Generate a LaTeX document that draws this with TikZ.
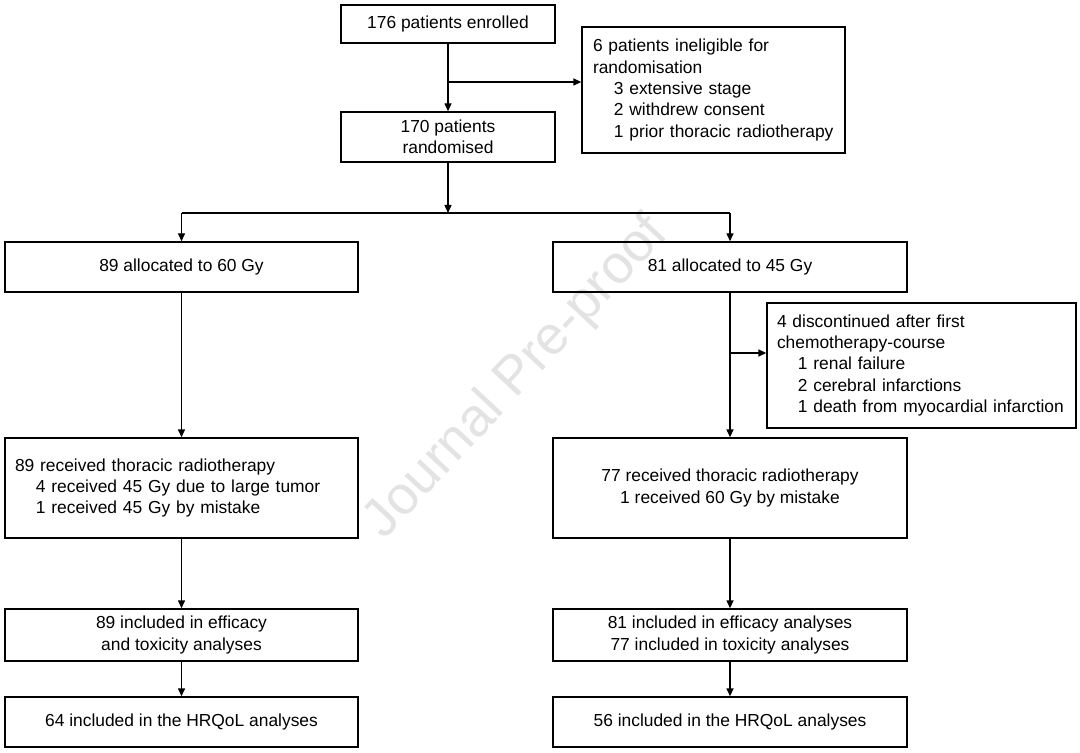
\documentclass[tikz,border=0pt]{standalone}
\usepackage{fontspec}
\setmainfont{Liberation Sans}
\usetikzlibrary{arrows.meta}

\newcommand\flowfont{\fontsize{8.7}{10.65}\selectfont}
\newcommand\ind{\hspace*{1.2em}}
\tikzset{
  box/.style={draw, line width=0.7pt, font=\flowfont, align=center, inner sep=0pt},
  boxsize/.style 2 args={minimum width=#1, minimum height=#2},
  arr/.style={-{Triangle[length=4pt,width=3.5pt]}, line width=0.7pt},
}

\begin{document}
\begin{tikzpicture}[x=0.5pt, y=-0.5pt]
    \fill[white] (0,0) rectangle (1080,753);
    \useasboundingbox (0,0) rectangle (1080,753);

    % watermark
    \node[rotate=47, text=black!11, font=\fontsize{27}{27}\selectfont] (wm) at (517,378) {Journal Pre-proof};

    % enrolment
    \node[box, boxsize={107pt}{19pt}] (enrol) at (448,24) {176 patients enrolled};
    \node[box, boxsize={107pt}{25pt}] (rand) at (448,137) {170 patients\\randomised};
    \node[box, boxsize={131.5pt}{63pt}, align=left, text width=120.5pt, inner xsep=5.5pt] (excl) at (713.5,90)
        {6 patients ineligible for\\randomisation\\\ind 3 extensive stage\\\ind 2 withdrew consent\\\ind 1 prior thoracic radiotherapy};

    % arms
    \node[box, boxsize={176.5pt}{25pt}] (arm60) at (181.5,267) {89 allocated to 60 Gy};
    \node[box, boxsize={177pt}{25pt}] (arm45) at (730,267) {81 allocated to 45 Gy};
    \node[box, boxsize={154.5pt}{62.5pt}, align=left, text width=144.5pt, inner xsep=5pt] (disc) at (921.5,365.5)
        {4 discontinued after first\\chemotherapy-course\\\ind 1 renal failure\\\ind 2 cerebral infarctions\\\ind 1 death from myocardial infarction};

    \node[box, boxsize={176.5pt}{50pt}, align=left, text width=166.5pt, inner xsep=5pt] (rt60) at (181.5,488)
        {89 received thoracic radiotherapy\\\ind 4 received 45 Gy due to large tumor\\\ind 1 received 45 Gy by mistake};
    \node[box, boxsize={177pt}{50pt}] (rt45) at (730,488) {77 received thoracic radiotherapy\\1 received 60 Gy by mistake};

    \node[box, boxsize={176.5pt}{26pt}] (eff60) at (181.5,635) {89 included in efficacy\\and toxicity analyses};
    \node[box, boxsize={177pt}{26pt}] (eff45) at (730,635) {81 included in efficacy analyses\\77 included in toxicity analyses};

    \node[box, boxsize={176.5pt}{25pt}] (hrq60) at (181.5,722) {64 included in the HRQoL analyses};
    \node[box, boxsize={177pt}{25pt}] (hrq45) at (730,722) {56 included in the HRQoL analyses};

    % connectors
    \coordinate (out) at (448,82);
    \coordinate (split) at (448,213);
    \coordinate (stop) at (730,353);
    \draw[arr] (enrol) -- (rand);
    \draw[arr] (out) -- (out -| excl.west);
    \draw[arr] (rand) -- (split);
    \draw[line width=1.1pt] (split -| arm60) -- (split -| arm45);
    \draw[arr] (split -| arm60) -- (arm60);
    \draw[arr] (split -| arm45) -- (arm45);
    \draw[arr] (arm60) -- (rt60);
    \draw[arr] (arm45) -- (rt45);
    \draw[arr] (stop) -- (stop -| disc.west);
    \draw[arr] (rt60) -- (eff60);
    \draw[arr] (rt45) -- (eff45);
    \draw[arr] (eff60) -- (hrq60);
    \draw[arr] (eff45) -- (hrq45);
\end{tikzpicture}
\end{document}
